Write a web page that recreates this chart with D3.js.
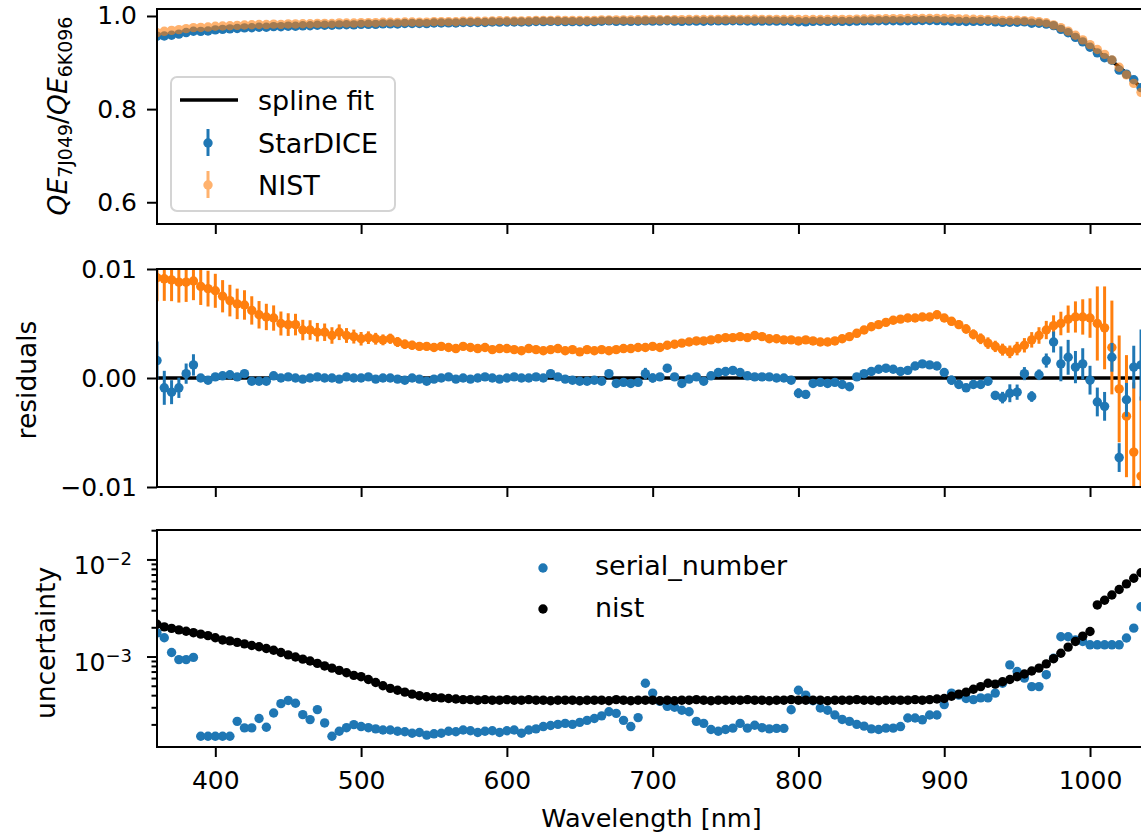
<!DOCTYPE html>
<html>
<head>
<meta charset="utf-8">
<script src="https://cdn.jsdelivr.net/npm/d3@7"></script>
<style>
  body { margin: 0; background: #fff; }
  svg text { font-family: "DejaVu Sans", sans-serif; fill: #000; }
</style>
</head>
<body>
<svg id="fig" width="1141" height="833"></svg>
<script>
// Wavelength grid [nm]
const wavelength = [
  360,365,370,375,380,385,390,395,400,405,
  410,415,420,425,430,435,440,445,450,455,
  460,465,470,475,480,485,490,495,500,505,
  510,515,520,525,530,535,540,545,550,555,
  560,565,570,575,580,585,590,595,600,605,
  610,615,620,625,630,635,640,645,650,655,
  660,665,670,675,680,685,690,695,700,705,
  710,715,720,725,730,735,740,745,750,755,
  760,765,770,775,780,785,790,795,800,805,
  810,815,820,825,830,835,840,845,850,855,
  860,865,870,875,880,885,890,895,900,905,
  910,915,920,925,930,935,940,945,950,955,
  960,965,970,975,980,985,990,995,1000,1005,
  1010,1015,1020,1025,1030,1035,1040
];

// Spline fit of the QE ratio
const splineFit = [
  0.955,0.958,0.960,0.962,0.964,0.966,0.967,0.968,0.970,0.971,
  0.972,0.973,0.974,0.975,0.976,0.976,0.977,0.977,0.978,0.978,
  0.979,0.979,0.980,0.980,0.980,0.981,0.981,0.981,0.982,0.982,
  0.982,0.983,0.983,0.983,0.984,0.984,0.984,0.984,0.985,0.985,
  0.985,0.985,0.986,0.986,0.986,0.986,0.987,0.987,0.987,0.987,
  0.987,0.987,0.988,0.988,0.988,0.988,0.988,0.988,0.988,0.988,
  0.988,0.989,0.989,0.989,0.989,0.989,0.989,0.989,0.989,0.989,
  0.989,0.989,0.989,0.989,0.989,0.989,0.989,0.989,0.989,0.989,
  0.989,0.989,0.989,0.989,0.989,0.989,0.989,0.989,0.989,0.989,
  0.989,0.989,0.989,0.989,0.989,0.989,0.989,0.989,0.989,0.989,
  0.989,0.989,0.989,0.989,0.989,0.989,0.989,0.989,0.989,0.989,
  0.989,0.989,0.989,0.989,0.989,0.989,0.988,0.988,0.988,0.987,
  0.986,0.984,0.981,0.976,0.970,0.962,0.953,0.943,0.933,0.923,
  0.913,0.903,0.891,0.877,0.862,0.845,0.828
];

// Residuals (data - spline fit)
const residStarDICE = [
  0.0016,-0.0009,-0.0013,-0.0009,0.0004,0.0012,0.0000,-0.0002,0.0001,0.0002,
  0.0003,0.0001,0.0004,-0.0003,-0.0003,-0.0003,0.0002,0.0000,0.0001,0.0000,
  -0.0001,0.0000,0.0001,0.0000,0.0000,-0.0001,0.0001,0.0000,0.0000,0.0001,
  -0.0001,0.0000,0.0000,-0.0001,-0.0002,0.0000,-0.0001,-0.0003,-0.0001,0.0000,
  0.0001,-0.0001,0.0000,-0.0001,0.0000,0.0001,0.0000,-0.0001,0.0000,0.0001,
  0.0000,0.0000,0.0001,0.0000,0.0004,0.0001,-0.0001,-0.0002,-0.0003,-0.0003,
  -0.0002,-0.0003,0.0004,-0.0005,-0.0004,-0.0005,-0.0004,0.0004,0.0000,0.0001,
  0.0009,0.0001,-0.0005,-0.0001,0.0001,-0.0003,0.0002,0.0005,0.0006,0.0007,
  0.0005,0.0002,0.0001,0.0001,0.0001,0.0000,0.0000,-0.0002,-0.0014,-0.0015,
  -0.0005,-0.0004,-0.0005,-0.0004,-0.0006,-0.0008,0.0001,0.0004,0.0006,0.0008,
  0.0009,0.0008,0.0006,0.0007,0.0011,0.0013,0.0012,0.0011,0.0005,-0.0002,
  -0.0006,-0.0009,-0.0006,-0.0006,-0.0003,-0.0016,-0.0018,-0.0014,-0.0013,0.0004,
  -0.0017,0.0003,0.0016,0.0033,0.0013,0.0019,0.0010,0.0013,-0.0002,-0.0022,
  -0.0026,0.0019,-0.0073,-0.0020,0.0010,0.0012,0.0015
];

const residNIST = [
  0.0092,0.0091,0.0090,0.0088,0.0088,0.0089,0.0084,0.0082,0.0080,0.0075,
  0.0071,0.0068,0.0067,0.0062,0.0058,0.0056,0.0055,0.0050,0.0049,0.0049,
  0.0044,0.0044,0.0042,0.0042,0.0039,0.0042,0.0039,0.0038,0.0036,0.0037,
  0.0036,0.0035,0.0036,0.0033,0.0031,0.0030,0.0029,0.0029,0.0028,0.0029,
  0.0028,0.0027,0.0029,0.0028,0.0027,0.0028,0.0026,0.0027,0.0027,0.0026,
  0.0025,0.0027,0.0026,0.0025,0.0026,0.0027,0.0025,0.0026,0.0024,0.0026,
  0.0025,0.0026,0.0025,0.0026,0.0027,0.0027,0.0028,0.0028,0.0029,0.0028,
  0.0030,0.0031,0.0032,0.0033,0.0034,0.0034,0.0035,0.0036,0.0037,0.0037,
  0.0038,0.0037,0.0039,0.0038,0.0036,0.0036,0.0035,0.0035,0.0034,0.0035,
  0.0034,0.0033,0.0033,0.0034,0.0036,0.0038,0.0041,0.0044,0.0047,0.0049,
  0.0051,0.0053,0.0054,0.0055,0.0055,0.0056,0.0056,0.0058,0.0055,0.0052,
  0.0049,0.0045,0.0040,0.0036,0.0032,0.0029,0.0026,0.0024,0.0027,0.0030,
  0.0035,0.0039,0.0044,0.0048,0.0050,0.0054,0.0056,0.0056,0.0055,0.0050,
  0.0046,0.0028,-0.0010,-0.0035,-0.0068,-0.0090,-0.0110
];

// Uncertainties (also used as error bars)
const uncSerial = [
  1.75e-3,1.56e-3,1.10e-3,0.93e-3,0.93e-3,0.98e-3,1.51e-4,1.51e-4,1.51e-4,1.51e-4,
  1.51e-4,2.15e-4,1.84e-4,1.84e-4,2.30e-4,1.87e-4,2.62e-4,3.27e-4,3.53e-4,3.30e-4,
  2.52e-4,2.24e-4,2.84e-4,2.07e-4,1.51e-4,1.70e-4,1.85e-4,1.99e-4,1.90e-4,1.85e-4,
  1.80e-4,1.75e-4,1.75e-4,1.70e-4,1.68e-4,1.62e-4,1.65e-4,1.55e-4,1.60e-4,1.62e-4,
  1.70e-4,1.68e-4,1.75e-4,1.72e-4,1.65e-4,1.70e-4,1.72e-4,1.65e-4,1.72e-4,1.75e-4,
  1.62e-4,1.75e-4,1.80e-4,1.90e-4,1.95e-4,2.00e-4,2.05e-4,2.00e-4,2.10e-4,2.20e-4,
  2.30e-4,2.45e-4,2.70e-4,2.60e-4,2.20e-4,1.90e-4,2.35e-4,5.30e-4,4.20e-4,3.45e-4,
  3.07e-4,3.00e-4,2.80e-4,2.70e-4,2.15e-4,2.05e-4,1.77e-4,1.70e-4,1.77e-4,1.83e-4,
  2.05e-4,1.83e-4,1.96e-4,1.85e-4,1.80e-4,1.82e-4,1.82e-4,2.83e-4,4.50e-4,4.00e-4,
  3.50e-4,2.95e-4,2.80e-4,2.50e-4,2.25e-4,2.15e-4,2.00e-4,1.92e-4,1.80e-4,1.77e-4,
  1.83e-4,1.83e-4,1.90e-4,2.33e-4,2.33e-4,2.23e-4,2.50e-4,2.50e-4,3.20e-4,4.20e-4,
  4.00e-4,3.70e-4,3.60e-4,3.75e-4,3.75e-4,4.20e-4,5.30e-4,8.20e-4,7.00e-4,6.00e-4,
  4.90e-4,4.90e-4,6.50e-4,9.60e-4,1.60e-3,1.60e-3,1.48e-3,1.43e-3,1.32e-3,1.32e-3,
  1.32e-3,1.32e-3,1.32e-3,1.55e-3,1.96e-3,3.26e-3,4.00e-3
];

const uncNIST = [
  2.15e-3,2.02e-3,1.95e-3,1.88e-3,1.82e-3,1.76e-3,1.70e-3,1.64e-3,1.56e-3,1.48e-3,
  1.45e-3,1.40e-3,1.35e-3,1.30e-3,1.26e-3,1.21e-3,1.16e-3,1.10e-3,1.04e-3,0.99e-3,
  9.4e-4,9.0e-4,8.5e-4,8.0e-4,7.6e-4,7.2e-4,6.8e-4,6.4e-4,6.2e-4,5.8e-4,
  5.4e-4,5.0e-4,4.7e-4,4.5e-4,4.3e-4,4.1e-4,3.95e-4,3.85e-4,3.8e-4,3.75e-4,
  3.7e-4,3.65e-4,3.6e-4,3.6e-4,3.55e-4,3.6e-4,3.55e-4,3.55e-4,3.6e-4,3.55e-4,
  3.55e-4,3.6e-4,3.55e-4,3.55e-4,3.5e-4,3.55e-4,3.55e-4,3.55e-4,3.5e-4,3.55e-4,
  3.55e-4,3.55e-4,3.5e-4,3.6e-4,3.55e-4,3.5e-4,3.55e-4,3.55e-4,3.55e-4,3.5e-4,
  3.55e-4,3.5e-4,3.55e-4,3.55e-4,3.6e-4,3.55e-4,3.5e-4,3.55e-4,3.55e-4,3.55e-4,
  3.55e-4,3.6e-4,3.55e-4,3.55e-4,3.5e-4,3.55e-4,3.55e-4,3.6e-4,3.55e-4,3.55e-4,
  3.55e-4,3.55e-4,3.5e-4,3.55e-4,3.55e-4,3.55e-4,3.6e-4,3.55e-4,3.55e-4,3.5e-4,
  3.55e-4,3.55e-4,3.55e-4,3.55e-4,3.6e-4,3.55e-4,3.6e-4,3.65e-4,3.7e-4,3.9e-4,
  4.1e-4,4.3e-4,4.6e-4,4.9e-4,5.3e-4,5.2e-4,5.5e-4,5.8e-4,6.2e-4,6.6e-4,
  7.1e-4,7.6e-4,8.4e-4,9.5e-4,1.08e-3,1.25e-3,1.43e-3,1.62e-3,1.81e-3,3.4e-3,
  3.8e-3,4.3e-3,4.9e-3,5.6e-3,6.4e-3,7.3e-3,8.2e-3
];

// Tick positions
const xTicks = [400, 500, 600, 700, 800, 900, 1000];
const ratioTicks = [0.6, 0.8, 1.0];
const residTicks = [-0.01, 0.00, 0.01];
const uncMajorTicks = [1e-3, 1e-2];
const uncMinorTicks = [2e-4,3e-4,4e-4,5e-4,6e-4,7e-4,8e-4,9e-4,
                       2e-3,3e-3,4e-3,5e-3,6e-3,7e-3,8e-3,9e-3,2e-2];

const BLUE = "#1f77b4", ORANGE = "#ff7f0e";
const TICK_FONT = "25px", LABEL_FONT = "26.5px", LEGEND_FONT = "27px";
const MARKER_R = 4.7;

const rows = wavelength.map((w, i) => ({
  w,
  fit: splineFit[i],
  rs: residStarDICE[i],
  rn: residNIST[i],
  us: uncSerial[i],
  un: uncNIST[i]
}));

const svg = d3.select("#fig");
svg.append("rect").attr("width", 1141).attr("height", 833).attr("fill", "#fff");

const xLeft = 157, xRight = 1146;
const x = d3.scaleLinear().domain([360, 1038.4]).range([xLeft, xRight]);

const pRatio = { top: 9, bottom: 224 };
const pResid = { top: 269, bottom: 487 };
const pUnc   = { top: 530, bottom: 747 };

const yRatio = d3.scaleLinear().domain([0.5533, 1.015]).range([pRatio.bottom, pRatio.top]);
const yResid = d3.scaleLinear().domain([-0.01, 0.01]).range([pResid.bottom, pResid.top]);
const yUnc = d3.scaleLog().domain([1.17e-4, 0.0201]).range([pUnc.bottom, pUnc.top]);

const defs = svg.append("defs");
function clipFor(id, p) {
  defs.append("clipPath").attr("id", id)
    .append("rect").attr("x", xLeft).attr("y", p.top)
    .attr("width", xRight - xLeft).attr("height", p.bottom - p.top);
  return svg.append("g").attr("clip-path", `url(#${id})`);
}

function styleAxis(g) {
  g.select(".domain").remove();
  g.selectAll(".tick line").attr("stroke", "#000").attr("stroke-width", 2);
  g.selectAll(".tick text").style("font-size", TICK_FONT).attr("fill", "#000");
}

function frame(p) {
  svg.append("rect")
    .attr("x", xLeft).attr("y", p.top)
    .attr("width", xRight - xLeft).attr("height", p.bottom - p.top)
    .attr("fill", "none").attr("stroke", "#000").attr("stroke-width", 2);
}

function errorSeries(g, data, yScale, val, err, color, opacity, r) {
  const s = g.append("g").attr("opacity", opacity);
  s.selectAll("line").data(data).join("line")
    .attr("x1", d => x(d.w)).attr("x2", d => x(d.w))
    .attr("y1", d => yScale(val(d) - err(d)))
    .attr("y2", d => yScale(val(d) + err(d)))
    .attr("stroke", color).attr("stroke-width", 3);
  s.selectAll("circle").data(data).join("circle")
    .attr("cx", d => x(d.w)).attr("cy", d => yScale(val(d)))
    .attr("r", r).attr("fill", color);
}

// ---------- Panel 1: QE ratio ----------
const g1 = clipFor("clipRatio", pRatio);
g1.append("path").datum(rows)
  .attr("d", d3.line().x(d => x(d.w)).y(d => yRatio(d.fit)))
  .attr("fill", "none").attr("stroke", "#000").attr("stroke-width", 3.5);
errorSeries(g1, rows, yRatio, d => d.fit + d.rs, d => d.us, BLUE, 1, MARKER_R);
errorSeries(g1, rows, yRatio, d => d.fit + d.rn, d => d.un, ORANGE, 0.6, MARKER_R);

svg.append("g").attr("transform", `translate(${xLeft},0)`)
  .call(d3.axisLeft(yRatio).tickValues(ratioTicks).tickSize(10).tickPadding(10).tickFormat(d3.format(".1f")))
  .call(styleAxis);
svg.append("g").attr("transform", `translate(0,${pRatio.bottom})`)
  .call(d3.axisBottom(x).tickValues(xTicks).tickSize(10).tickFormat(""))
  .call(styleAxis);
frame(pRatio);

// Legend of panel 1
const leg1 = svg.append("g");
leg1.append("rect").attr("x", 171).attr("y", 77).attr("width", 224).attr("height", 134)
  .attr("rx", 6).attr("fill", "#fff").attr("fill-opacity", 0.8)
  .attr("stroke", "#d4d4d4").attr("stroke-width", 2);
leg1.append("line").attr("x1", 180).attr("x2", 238).attr("y1", 100).attr("y2", 100)
  .attr("stroke", "#000").attr("stroke-width", 3.5);
const legItems = [
  { label: "spline fit", y: 110 },
  { label: "StarDICE", y: 153, color: BLUE, op: 1, cy: 143 },
  { label: "NIST", y: 195, color: ORANGE, op: 0.6, cy: 185 }
];
legItems.forEach(it => {
  leg1.append("text").attr("x", 258).attr("y", it.y).style("font-size", LEGEND_FONT).text(it.label);
  if (it.color) {
    const m = leg1.append("g").attr("opacity", it.op);
    m.append("line").attr("x1", 208).attr("x2", 208).attr("y1", it.cy - 14).attr("y2", it.cy + 13)
      .attr("stroke", it.color).attr("stroke-width", 3);
    m.append("circle").attr("cx", 208).attr("cy", it.cy).attr("r", MARKER_R).attr("fill", it.color);
  }
});

// Y label of panel 1
const lab1 = svg.append("text")
  .attr("transform", "translate(67,116) rotate(-90)")
  .attr("text-anchor", "middle").style("font-size", LABEL_FONT);
lab1.append("tspan").style("font-style", "italic").text("QE");
lab1.append("tspan").attr("dy", 5).style("font-size", "19px").text("7J049");
lab1.append("tspan").attr("dy", -5).text("/");
lab1.append("tspan").style("font-style", "italic").text("QE");
lab1.append("tspan").attr("dy", 5).style("font-size", "19px").text("6K096");

// ---------- Panel 2: residuals ----------
const g2 = clipFor("clipResid", pResid);
g2.append("line").attr("x1", xLeft).attr("x2", xRight)
  .attr("y1", yResid(0)).attr("y2", yResid(0))
  .attr("stroke", "#000").attr("stroke-width", 3.5);
errorSeries(g2, rows, yResid, d => d.rn, d => d.un, ORANGE, 1, MARKER_R);
errorSeries(g2, rows, yResid, d => d.rs, d => d.us, BLUE, 1, MARKER_R);

svg.append("g").attr("transform", `translate(${xLeft},0)`)
  .call(d3.axisLeft(yResid).tickValues(residTicks).tickSize(10).tickPadding(10).tickFormat(d3.format(".2f")))
  .call(styleAxis);
svg.append("g").attr("transform", `translate(0,${pResid.bottom})`)
  .call(d3.axisBottom(x).tickValues(xTicks).tickSize(10).tickFormat(""))
  .call(styleAxis);
frame(pResid);

svg.append("text").attr("transform", "translate(36,380) rotate(-90)")
  .attr("text-anchor", "middle").style("font-size", LABEL_FONT).text("residuals");

// ---------- Panel 3: uncertainties (log) ----------
const g3 = clipFor("clipUnc", pUnc);
g3.append("g").selectAll("circle").data(rows).join("circle")
  .attr("cx", d => x(d.w)).attr("cy", d => yUnc(d.us)).attr("r", MARKER_R).attr("fill", BLUE);
g3.append("g").selectAll("circle").data(rows).join("circle")
  .attr("cx", d => x(d.w)).attr("cy", d => yUnc(d.un)).attr("r", MARKER_R).attr("fill", "#000");

// minor ticks
svg.append("g").attr("transform", `translate(${xLeft},0)`)
  .call(d3.axisLeft(yUnc).tickValues(uncMinorTicks).tickSize(5.5).tickFormat(""))
  .call(styleAxis);
// major ticks with power-of-ten labels
const majG = svg.append("g").attr("transform", `translate(${xLeft},0)`)
  .call(d3.axisLeft(yUnc).tickValues(uncMajorTicks).tickSize(10).tickFormat(""))
  .call(styleAxis);
majG.selectAll(".tick").each(function (d) {
  const t = d3.select(this).append("text")
    .attr("x", -25).attr("y", 14).attr("text-anchor", "end")
    .style("font-size", TICK_FONT).attr("fill", "#000");
  t.append("tspan").text("10");
  t.append("tspan").attr("dy", -9).style("font-size", "18px").text("\u2212" + Math.round(-Math.log10(d)));
});
svg.append("g").attr("transform", `translate(0,${pUnc.bottom})`)
  .call(d3.axisBottom(x).tickValues(xTicks).tickSize(10).tickPadding(14).tickFormat(d3.format("d")))
  .call(styleAxis);
frame(pUnc);

svg.append("text").attr("transform", "translate(55,643) rotate(-90)")
  .attr("text-anchor", "middle").style("font-size", LABEL_FONT).text("uncertainty");
svg.append("text").attr("x", (xLeft + xRight) / 2).attr("y", 827)
  .attr("text-anchor", "middle").style("font-size", "25.5px").text("Wavelength [nm]");

// Legend of panel 3
const leg3 = [
  { label: "serial_number", color: BLUE, cy: 568, y: 575 },
  { label: "nist", color: "#000", cy: 609, y: 617 }
];
leg3.forEach(it => {
  svg.append("circle").attr("cx", 543).attr("cy", it.cy).attr("r", MARKER_R).attr("fill", it.color);
  svg.append("text").attr("x", 595).attr("y", it.y).style("font-size", LEGEND_FONT).text(it.label);
});
</script>
</body>
</html>
